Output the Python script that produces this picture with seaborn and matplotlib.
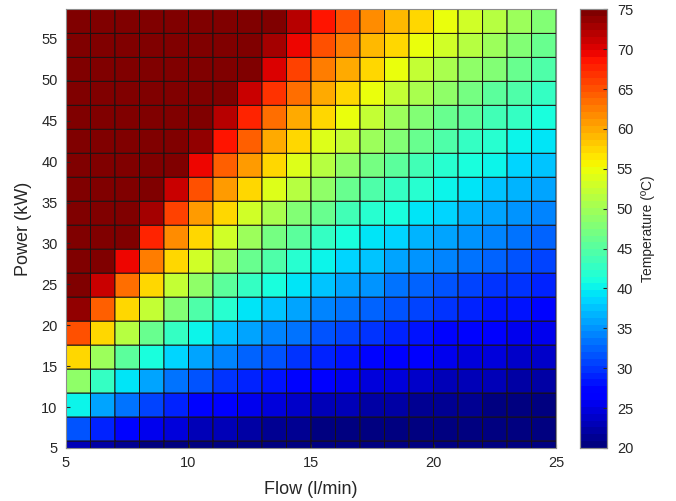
import numpy as np
import pandas as pd
import matplotlib
matplotlib.use("Agg")
import matplotlib.pyplot as plt
import seaborn as sns

# Lower-left vertex of each cell (MATLAB pcolor style)
flow = [5, 6, 7, 8, 9, 10, 11, 12, 13, 14, 15, 16, 17, 18, 19, 20, 21, 22, 23, 24]
flow_edges = [5, 6, 7, 8, 9, 10, 11, 12, 13, 14, 15, 16, 17, 18, 19, 20, 21, 22, 23, 24, 25]
power = [2.93, 5.86, 8.79, 11.72, 14.65, 17.58, 20.51, 23.44, 26.38, 29.31,
         32.24, 35.17, 38.10, 41.03, 43.96, 46.89, 49.82, 52.75, 55.68]
power_top = 58.61
xticks = [5, 10, 15, 20, 25]
yticks = [5, 10, 15, 20, 25, 30, 35, 40, 45, 50, 55]
cbar_ticks = [20, 25, 30, 35, 40, 45, 50, 55, 60, 65, 70, 75]

# Temperature (degC) read per cell, rows = power (bottom -> top), cols = flow
t_p01 = [23.4, 22.0, 21.0, 20.3, 20, 20, 20, 20, 20, 20, 20, 20, 20, 20, 20, 20, 20, 20, 20, 20]
t_p02 = [31.8, 29.0, 27.0, 25.5, 24.3, 23.4, 22.6, 22.0, 21.5, 21.0, 20.6, 20.3, 20, 20, 20, 20, 20, 20, 20, 20]
t_p03 = [40.2, 36.0, 33.0, 30.8, 29.0, 27.6, 26.5, 25.5, 24.7, 24.0, 23.4, 22.9, 22.4, 22.0, 21.6, 21.3, 21.0, 20.7, 20.5, 20.3]
t_p04 = [48.6, 43.0, 39.0, 36.0, 33.7, 31.8, 30.3, 29.0, 27.9, 27.0, 26.2, 25.5, 24.9, 24.3, 23.8, 23.4, 23.0, 22.6, 22.3, 22.0]
t_p05 = [57.0, 50.0, 45.0, 41.3, 38.3, 36.0, 34.1, 32.5, 31.2, 30.0, 29.0, 28.1, 27.4, 26.7, 26.1, 25.5, 25.0, 24.5, 24.1, 23.8]
t_p06 = [65.4, 57.0, 51.0, 46.5, 43.0, 40.2, 37.9, 36.0, 34.4, 33.0, 31.8, 30.8, 29.8, 29.0, 28.3, 27.6, 27.0, 26.5, 26.0, 25.5]
t_p07 = [73.8, 64.0, 57.0, 51.8, 47.7, 44.4, 41.7, 39.5, 37.6, 36.0, 34.6, 33.4, 32.3, 31.3, 30.5, 29.7, 29.0, 28.4, 27.8, 27.3]
t_p08 = [75, 71.0, 63.0, 57.0, 52.3, 48.6, 45.5, 43.0, 40.8, 39.0, 37.4, 36.0, 34.8, 33.7, 32.7, 31.8, 31.0, 30.3, 29.6, 29.0]
t_p09 = [75, 75, 69.0, 62.3, 57.0, 52.8, 49.4, 46.5, 44.1, 42.0, 40.2, 38.6, 37.2, 36.0, 34.9, 33.9, 33.0, 32.2, 31.4, 30.8]
t_p10 = [75, 75, 75, 67.5, 61.7, 57.0, 53.2, 50.0, 47.3, 45.0, 43.0, 41.3, 39.7, 38.3, 37.1, 36.0, 35.0, 34.1, 33.3, 32.5]
t_p11 = [75, 75, 75, 72.8, 66.3, 61.2, 57.0, 53.5, 50.5, 48.0, 45.8, 43.9, 42.2, 40.7, 39.3, 38.1, 37.0, 36.0, 35.1, 34.3]
t_p12 = [75, 75, 75, 75, 71.0, 65.4, 60.8, 57.0, 53.8, 51.0, 48.6, 46.5, 44.6, 43.0, 41.5, 40.2, 39.0, 37.9, 36.9, 36.0]
t_p13 = [75, 75, 75, 75, 75, 69.6, 64.6, 60.5, 57.0, 54.0, 51.4, 49.1, 47.1, 45.3, 43.7, 42.3, 41.0, 39.8, 38.7, 37.8]
t_p14 = [75, 75, 75, 75, 75, 73.8, 68.5, 64.0, 60.2, 57.0, 54.2, 51.8, 49.6, 47.7, 45.9, 44.4, 43.0, 41.7, 40.6, 39.5]
t_p15 = [75, 75, 75, 75, 75, 75, 72.3, 67.5, 63.5, 60.0, 57.0, 54.4, 52.1, 50.0, 48.2, 46.5, 45.0, 43.6, 42.4, 41.3]
t_p16 = [75, 75, 75, 75, 75, 75, 75, 71.0, 66.7, 63.0, 59.8, 57.0, 54.5, 52.3, 50.4, 48.6, 47.0, 45.5, 44.2, 43.0]
t_p17 = [75, 75, 75, 75, 75, 75, 75, 74.5, 69.9, 66.0, 62.6, 59.6, 57.0, 54.7, 52.6, 50.7, 49.0, 47.5, 46.0, 44.8]
t_p18 = [75, 75, 75, 75, 75, 75, 75, 75, 73.2, 69.0, 65.4, 62.3, 59.5, 57.0, 54.8, 52.8, 51.0, 49.4, 47.9, 46.5]
t_p19 = [75, 75, 75, 75, 75, 75, 75, 75, 75, 72.0, 68.2, 64.9, 61.9, 59.3, 57.0, 54.9, 53.0, 51.3, 49.7, 48.3]

rows = [t_p01, t_p02, t_p03, t_p04, t_p05, t_p06, t_p07, t_p08, t_p09, t_p10,
        t_p11, t_p12, t_p13, t_p14, t_p15, t_p16, t_p17, t_p18, t_p19]
df = pd.DataFrame(rows, index=power, columns=flow)

TXT = "#262626"
plt.rcParams["font.family"] = ["Liberation Sans", "DejaVu Sans"]

fig = plt.figure(figsize=(6.76, 5.01), dpi=100)
ax = fig.add_axes([0.0976, 0.1058, 0.7250, 0.8756])
cax = fig.add_axes([0.858, 0.1058, 0.040, 0.8756])

cmap = matplotlib.colormaps["jet"].resampled(64)
sns.heatmap(df, ax=ax, cbar_ax=cax, cmap=cmap, vmin=20, vmax=75,
            linewidths=0.7, linecolor="#1a1212", square=False,
            xticklabels=False, yticklabels=False, antialiased=True, snap=False)

# map real coordinates to heatmap cell coordinates
step = power[1] - power[0]
def ypos(p):
    return (p - power[0]) / step
def xpos(f):
    return f - flow_edges[0]

ax.set_xlim(xpos(flow_edges[0]), xpos(flow_edges[-1]))
ax.set_ylim(ypos(5), ypos(power_top))
ax.set_xticks([xpos(v) for v in xticks])
ax.set_xticklabels([str(v) for v in xticks])
ax.set_yticks([ypos(v) for v in yticks])
ax.set_yticklabels([str(v) for v in yticks], rotation=0)
ax.tick_params(axis="both", direction="in", length=3, labelsize=10.5,
               colors=TXT, labelcolor=TXT, pad=6)
ax.set_xlabel("Flow (l/min)", fontsize=13, color=TXT, labelpad=8)
ax.set_ylabel("Power (kW)", fontsize=13, color=TXT, labelpad=7)
for s in ax.spines.values():
    s.set_visible(True)
    s.set_color("#8c8c8c")
    s.set_linewidth(0.8)

cax.set_yticks(cbar_ticks)
cax.set_yticklabels([str(v) for v in cbar_ticks])
cax.tick_params(axis="y", direction="in", length=3, labelsize=10.5,
                colors=TXT, labelcolor=TXT, pad=7)
cax.set_ylabel("Temperature (ºC)", fontsize=10, color=TXT, labelpad=6)
for s in cax.spines.values():
    s.set_visible(True)
    s.set_color("#8c8c8c")
    s.set_linewidth(0.8)

fig.savefig("out.png", dpi=100)
